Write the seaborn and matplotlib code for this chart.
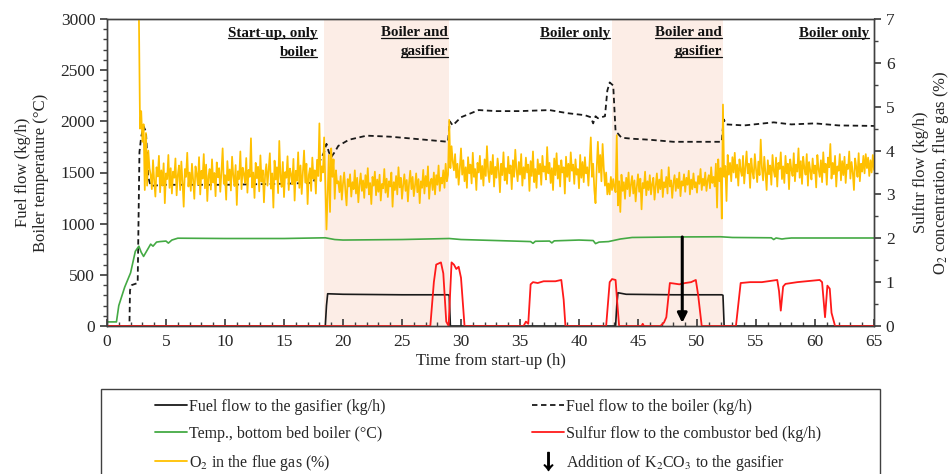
import numpy as np
import matplotlib
matplotlib.use("Agg")
import matplotlib.pyplot as plt
import seaborn as sns
from matplotlib.lines import Line2D
from matplotlib.patches import Rectangle
from matplotlib.ticker import MultipleLocator

# ---------------- data ----------------
# Fuel flow to the gasifier (kg/h)
gas_t = [0, 18.5, 18.6, 18.7, 20, 25, 28.9, 29.0, 29.1, 43.1,
         43.2, 43.3, 44, 48, 52.1, 52.2, 52.3, 65]
gas_v = [0, 0, 200, 315, 310, 305, 305, 300, 0, 0,
         200, 325, 310, 305, 305, 300, 0, 0]

# Fuel flow to the boiler (kg/h)
boil_t = [0, 1.9, 1.95, 2.1, 2.6, 2.75, 2.9, 3.1, 3.3, 3.5,
          3.7, 5, 10, 15, 17.5, 18.0, 18.4, 18.6, 18.8, 19.0,
          19.3, 19.6, 20.5, 22, 24, 26, 28.9, 29.05, 29.3, 30,
          31.5, 33, 35, 37.5, 39, 40.5, 41.0, 41.2, 41.4, 41.6,
          42.2, 42.4, 42.6, 42.9, 43.1, 43.3, 43.6, 44.5, 46, 48,
          50, 52.1, 52.25, 52.5, 54, 56.5, 58, 60, 62, 65]
boil_v = [0, 0, 350, 400, 420, 1700, 1850, 1950, 1900, 1450,
          1370, 1380, 1380, 1390, 1400, 1600, 1700, 1780, 1700, 1650,
          1700, 1760, 1820, 1860, 1850, 1830, 1800, 2000, 1960, 2040,
          2110, 2100, 2100, 2110, 2080, 2060, 2040, 1980, 2050, 2030,
          2050, 2300, 2380, 2350, 1900, 1880, 1840, 1830, 1820, 1800,
          1800, 1800, 2020, 1970, 1960, 1990, 1970, 1980, 1960, 1955]

# Temperature, bottom bed boiler (°C)
temp_t = [0, 0.8, 1.0, 1.5, 2.0, 2.4, 2.7, 2.9, 3.1, 3.4,
          3.7, 3.9, 4.2, 4.5, 5.0, 5.2, 5.5, 6.0, 10, 15,
          18.5, 19.3, 20, 25, 29, 30, 33, 35.9, 36.1, 36.3,
          37.5, 37.7, 37.9, 40, 41.2, 41.4, 41.7, 42.5, 43.5, 44.5,
          48, 52, 53, 56.3, 56.5, 56.7, 57.2, 57.5, 58, 65]
temp_v = [40, 40, 200, 380, 520, 730, 780, 720, 680, 740,
          800, 780, 820, 825, 830, 810, 840, 858, 855, 855,
          862, 845, 840, 845, 855, 845, 835, 825, 808, 828,
          830, 812, 832, 840, 835, 805, 820, 825, 850, 865,
          870, 872, 865, 862, 845, 860, 850, 855, 860, 860]

# Sulfur flow to the combustor bed (kg/h)
sulf_t = [0, 27.4, 27.7, 27.9, 28.3, 28.5, 28.75, 28.95, 29.2, 29.4,
          29.6, 29.8, 30.0, 30.3, 35.3, 35.5, 35.7, 35.9, 36.1, 36.5,
          37.0, 38.0, 38.5, 38.7, 38.85, 42.3, 42.6, 42.8, 43.1, 43.25,
          43.4, 45.3, 45.4, 45.5, 46.9, 47.2, 47.4, 47.7, 48.0, 48.5,
          49.0, 49.5, 49.9, 50.1, 50.4, 53.3, 53.7, 54.5, 55.5, 56.8,
          56.95, 57.1, 57.3, 57.5, 58.5, 60.4, 60.6, 60.85, 61.05, 61.25,
          61.4, 61.7, 65]
sulf_v = [0, 0, 1.0, 1.4, 1.45, 1.2, 0.1, 0, 1.45, 1.4,
          1.3, 1.35, 1.1, 0, 0, 0.1, 0.05, 0.95, 1.0, 0.98,
          1.02, 1.02, 1.05, 0.6, 0, 0, 1.0, 1.07, 1.05, 0.5,
          0, 0, 0.05, 0, 0, 0.08, 0.2, 0.98, 0.97, 0.95,
          0.98, 1.0, 1.05, 0.7, 0, 0, 0.98, 1.0, 1.0, 1.05,
          0.8, 0.35, 0.9, 0.96, 1.0, 1.05, 1.0, 0.2, 0.92, 0.85,
          0.3, 0, 0]

# O2 in the flue gas (%), sampled every 0.1 h from 2.7 h
o2_start = 2.7
o2_step = 0.1
o2_v = [
    7.2, 4.5, 4.9, 4.2, 4.6, 3.1, 4.4, 3.2, 4.0, 3.6,
    3.45, 3.12, 3.78, 3.30, 2.95, 3.62, 3.41, 3.88, 3.05, 3.55, 3.20, 3.71, 2.80, 3.48, 3.35, 3.90, 3.15, 3.60, 3.02, 3.52,
    3.38, 3.82, 2.98, 3.44, 3.66, 3.10, 3.75, 3.28, 2.72, 3.58, 3.40, 3.95, 3.18, 3.50, 3.08, 3.70, 3.33, 2.90, 3.64, 3.46,
    3.22, 3.85, 3.00, 3.54, 3.36, 3.92, 3.14, 3.68, 2.85, 3.42, 3.58, 3.11, 3.80, 3.27, 3.49, 2.96, 3.73, 3.39, 3.60, 3.06,
    3.52, 4.05, 3.24, 3.44, 2.88, 3.76, 3.32, 3.57, 3.09, 3.86, 3.43, 3.19, 3.67, 2.76, 3.53, 3.35, 3.98, 3.12, 3.61, 3.47,
    3.26, 3.83, 3.04, 3.56, 3.40, 4.28, 3.16, 3.50, 2.92, 3.72, 3.37, 3.63, 3.07, 3.89, 3.29, 3.55, 2.82, 3.45, 3.69, 3.20,
    3.58, 3.94, 3.13, 3.48, 2.70, 3.77, 3.34, 3.62, 3.03, 4.22, 3.41, 3.17, 3.74, 2.94, 3.51, 3.38, 3.87, 3.10, 3.59, 3.46,
    3.23, 3.81, 2.86, 3.54, 3.31, 3.96, 3.15, 3.66, 3.01, 3.50, 4.00, 3.27, 3.70,
    2.78, 3.44, 3.60, 3.08, 3.84, 3.36, 3.55, 3.02, 3.79, 3.42, 4.62, 3.30, 3.64,
    3.50, 4.30, 3.20, 2.20, 3.00, 3.90, 2.60, 4.05, 3.40, 3.80, 2.90, 3.55, 3.25,
    3.30, 3.05, 3.42, 2.88, 3.25, 3.50, 3.10, 2.75, 3.35, 3.18, 3.46, 2.95, 3.28, 3.12, 3.55, 3.02, 3.38, 2.82, 3.22, 3.48,
    3.08, 3.32, 2.92, 3.44, 3.15, 3.60, 3.00, 3.26, 2.78, 3.40, 3.20, 3.52, 2.98, 3.34, 3.06, 3.45, 2.86, 3.24, 3.14, 3.58,
    3.04, 3.36, 2.94, 3.30, 3.18, 3.50, 2.72, 3.28, 3.10, 3.42, 3.00, 3.62, 3.16, 3.38, 2.90, 3.22, 3.46, 3.08, 3.33, 2.84,
    3.26, 3.54, 3.12, 3.40, 2.96, 3.20, 3.48, 3.05, 3.35, 2.80, 3.30, 3.15, 3.56, 3.02, 3.42, 3.18, 3.64, 2.90, 3.28, 3.36,
    3.10, 3.50, 3.00, 3.44, 3.22, 3.66, 3.08, 3.38, 3.25, 3.55, 3.15, 3.70, 3.30, 3.45,
    4.70, 3.60, 4.10, 3.75,
    3.55, 3.92, 3.38, 3.70, 3.22, 3.60, 4.05, 3.45, 3.78, 3.30, 3.62, 3.15, 3.85, 3.48, 3.68, 3.25, 3.95, 3.40, 3.58, 3.10,
    3.72, 3.50, 3.88, 3.35, 3.65, 3.20, 3.80, 3.42, 4.10, 3.52, 3.28, 3.75, 3.46, 3.90, 3.18, 3.63, 3.38, 3.82, 3.55, 3.05,
    3.70, 3.44, 3.96, 3.32, 3.60, 3.24, 3.86, 3.48, 3.66, 3.12, 3.78, 3.40, 4.02, 3.56, 3.30, 3.74, 3.45, 3.92, 3.20, 3.62,
    3.36, 3.84, 3.50, 3.68, 3.08, 3.76, 3.42, 3.98, 3.28, 3.58, 3.15, 3.80, 3.46, 3.70, 3.22, 3.88, 3.52, 3.64, 3.34, 4.08,
    3.48, 3.72, 3.26, 3.60, 3.10, 3.82, 3.44, 3.94, 3.36, 3.66, 3.18, 3.78, 3.50, 3.62, 3.02, 3.86, 3.40, 3.70, 3.30, 3.96,
    3.54, 3.68, 3.24, 3.80, 3.45, 3.58, 3.14, 3.90, 3.38, 3.74, 3.28, 3.85, 3.48, 3.62, 3.20, 3.76,
    4.30, 3.40, 3.70, 3.10, 2.80, 3.60, 4.20, 3.50, 3.90, 3.30, 4.15, 3.60, 3.20, 3.50, 3.00,
    3.25, 3.00, 3.40, 3.10, 3.35, 3.15, 3.05, 4.35, 2.75, 3.30, 2.60, 3.45, 3.08, 3.28, 2.90, 3.38, 3.12, 3.50, 2.96, 3.22,
    3.42, 3.02, 3.32, 2.84, 3.18, 3.46, 3.06, 3.36, 2.66, 3.26, 3.14, 3.52, 2.98, 3.30, 3.10, 3.44, 3.00, 3.24, 3.38, 2.88,
    3.20, 3.48, 3.04, 3.34, 3.12, 3.56, 2.94, 3.28, 3.16, 3.40, 3.02, 3.62, 3.18, 3.32, 2.92, 3.26, 3.44, 3.08, 3.36, 3.14,
    3.50, 2.96, 3.30, 3.20, 3.46, 3.06, 3.38, 3.22, 3.54, 3.00, 3.34, 3.12, 3.48, 3.16, 3.28, 3.04, 3.42, 3.24, 3.58, 3.10,
    3.36, 3.20, 3.50, 3.08, 3.32, 3.44, 3.14, 3.62, 3.26, 3.40, 3.18, 3.70, 2.70, 3.80, 3.30, 3.60,
    2.45, 5.05, 3.40,
    3.65, 2.85, 3.90, 3.45, 3.72, 3.30, 3.85, 3.50, 3.95, 3.38, 3.68, 3.20, 3.80, 3.55, 3.42, 3.88, 3.25, 3.62, 3.98, 3.48,
    3.70, 3.15, 3.82, 3.52, 3.36, 3.92, 3.58, 3.28, 3.75, 3.44, 4.25, 3.60, 3.32, 3.86, 3.50, 3.10, 3.78, 3.46, 3.66, 3.22,
    3.90, 3.54, 3.40, 3.84, 3.18, 3.72, 3.58, 3.96, 3.35, 3.64, 3.26, 3.88, 3.48, 3.70, 3.12, 3.80, 3.56, 3.42, 3.94, 3.30,
    3.68, 3.52, 4.05, 3.38, 3.76, 3.24, 3.86, 3.60, 3.45, 3.92, 3.20, 3.74, 3.55, 3.34, 3.82, 3.48, 3.66, 3.16, 3.90, 3.58,
    3.40, 3.78, 3.28, 3.96, 3.50, 3.70, 3.22, 3.84, 3.62, 4.15, 3.36, 3.72, 3.46, 3.88, 3.18, 3.64, 3.54, 3.92, 3.32, 3.76,
    3.44, 3.86, 3.26, 3.68, 3.58, 3.98, 3.36, 3.74, 3.50, 3.10, 3.82, 3.62, 3.40, 3.94, 3.30, 3.70, 3.52, 3.88, 3.48, 3.92,
    3.60, 3.84, 3.42, 3.78, 3.50, 3.90, 3.56,
]
o2_t = np.round(o2_start + o2_step * np.arange(len(o2_v)), 2)

# Operating periods (shaded = boiler and gasifier)
shade_spans = [(18.4, 29.0), (42.8, 52.2)]
period_labels = [
    (17.8, ["Start-up, only", "boiler"]),
    (28.9, ["Boiler and", "gasifier"]),
    (42.6, ["Boiler only"]),
    (52.1, ["Boiler and", "gasifier"]),
    (64.6, ["Boiler only"]),
]
k2co3_time = 48.75

# ---------------- style ----------------
sns.set_theme(style="ticks")
plt.rcParams["font.family"] = ["Liberation Serif", "DejaVu Serif"]
plt.rcParams["mathtext.fontset"] = "stix"

C_BLACK = "#1a1a1a"
C_GREEN = "#44AA44"
C_RED = "#FF1A1A"
C_ORANGE = "#FFC000"
C_SHADE = "#FCEDE6"

W, H = 952, 474
fig = plt.figure(figsize=(W / 100, H / 100), dpi=100)
ax = fig.add_axes([107 / W, 1 - 326 / H, (874 - 107) / W, (326 - 19) / H])
ax2 = ax.twinx()

for a, b in shade_spans:
    ax.axvspan(a, b, color=C_SHADE, lw=0, zorder=0)

sns.lineplot(x=gas_t, y=gas_v, ax=ax, color=C_BLACK, lw=1.2, estimator=None, sort=False)
sns.lineplot(x=boil_t, y=boil_v, ax=ax, color=C_BLACK, lw=1.3, linestyle=(0, (3, 2)),
             estimator=None, sort=False)
sns.lineplot(x=temp_t, y=temp_v, ax=ax, color=C_GREEN, lw=1.2, estimator=None, sort=False)
sns.lineplot(x=sulf_t, y=sulf_v, ax=ax2, color=C_RED, lw=1.3, estimator=None, sort=False)
sns.lineplot(x=o2_t, y=o2_v, ax=ax2, color=C_ORANGE, lw=1.25, estimator=None, sort=False)

ax2.annotate("", xy=(k2co3_time, 0.07), xytext=(k2co3_time, 2.03),
             arrowprops=dict(arrowstyle="-|>", lw=2.2, color="black", mutation_scale=14,
                             shrinkA=0, shrinkB=0))

ax.set_xlim(0, 65)
ax.set_ylim(0, 3000)
ax2.set_ylim(0, 7)
ax.xaxis.set_major_locator(MultipleLocator(5))
ax.xaxis.set_minor_locator(MultipleLocator(1))
ax.yaxis.set_major_locator(MultipleLocator(500))
ax.yaxis.set_minor_locator(MultipleLocator(100))
ax2.yaxis.set_major_locator(MultipleLocator(1))
ax2.yaxis.set_minor_locator(MultipleLocator(0.5))

ax.tick_params(axis="x", which="major", direction="in", length=5, labelsize=12.5, color="#404040", pad=6)
ax.tick_params(axis="x", which="minor", direction="in", length=3, color="#404040")
ax.tick_params(axis="y", which="major", direction="out", length=5, labelsize=12.5, color="#404040")
ax.tick_params(axis="y", which="minor", direction="out", length=3, color="#404040")
ax2.tick_params(axis="y", which="major", direction="out", length=5, labelsize=12.5, color="#404040")
ax2.tick_params(axis="y", which="minor", direction="out", length=3, color="#404040")
for a_ in (ax, ax2):
    for s in a_.spines.values():
        s.set_color("#404040")
        s.set_linewidth(1.0)

ax.set_xlabel("Time from start-up (h)", fontsize=12, labelpad=2)
ax.set_ylabel("Fuel flow (kg/h)\nBoiler temperature (°C)", fontsize=12, labelpad=8)
ax2.set_ylabel("Sulfur flow (kg/h)\nO$_2$ concentration, flue gas (%)", fontsize=12, labelpad=13)
ax.set_zorder(0)

# period labels (bold, underlined)
period_texts = []
for xr, lines in period_labels:
    for i, line in enumerate(lines):
        ypix = 33 + 19 * i
        t = ax.text(xr, 1 - (ypix - 19) / (326 - 19), line, transform=ax.get_xaxis_transform(),
                    ha="right", va="center", fontsize=10.8, fontweight="bold", color="#111111",
                    zorder=10)
        period_texts.append(t)

# legend frame
fig.add_artist(Rectangle((101 / W, -0.1), (880 - 101) / W, (H - 389) / H + 0.1,
                         transform=fig.transFigure, fill=False, lw=1.0, ec="#404040"))

h1 = [Line2D([], [], color=C_BLACK, lw=1.3),
      Line2D([], [], color=C_GREEN, lw=1.3),
      Line2D([], [], color=C_ORANGE, lw=1.3)]
l1 = ["Fuel flow to the gasifier (kg/h)", "Temp., bottom bed boiler (°C)", "O$_2$ in the flue gas (%)"]
h2 = [Line2D([], [], color=C_BLACK, lw=1.3, linestyle=(0, (3, 2))),
      Line2D([], [], color=C_RED, lw=1.3),
      Line2D([], [], color="black", marker=r"$\downarrow$", markersize=13, linestyle="none")]
l2 = ["Fuel flow to the boiler (kg/h)", "Sulfur flow to the combustor bed (kg/h)",
      "Addition of K$_2$CO$_3$ to the gasifier"]
common = dict(loc="upper left", frameon=False, fontsize=11.5, handlelength=2.0,
              handletextpad=0.15, labelspacing=0.68, borderpad=0, borderaxespad=0)
fig.legend(h1, l1, bbox_to_anchor=(155 / W, 1 - 399 / H), **common)
fig.legend(h2, l2, bbox_to_anchor=(532 / W, 1 - 399 / H), **common)

# underline period labels
fig.canvas.draw()
r = fig.canvas.get_renderer()
inv = fig.transFigure.inverted()
for t in period_texts:
    bb = t.get_window_extent(r)
    (x0, y0) = inv.transform((bb.x0, bb.y0 + 1.5))
    (x1, _) = inv.transform((bb.x1, bb.y0 + 1.5))
    fig.add_artist(Line2D([x0, x1], [y0, y0], transform=fig.transFigure, color="#111111", lw=0.9))

fig.savefig("out.png", dpi=100)
